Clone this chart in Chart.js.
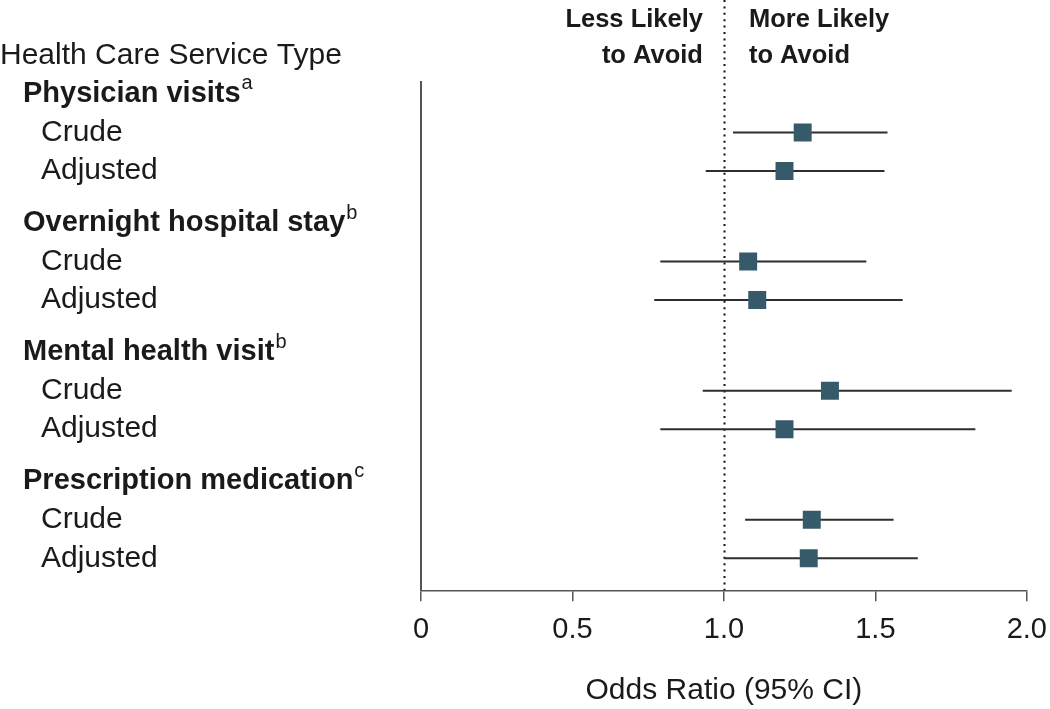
<!DOCTYPE html>
<html>
<head>
<meta charset="utf-8">
<script src="https://cdn.jsdelivr.net/npm/chart.js@4.4.1/dist/chart.umd.min.js"></script>
<style>
  html, body { margin: 0; padding: 0; background: #fff; }
  #wrap { width: 1050px; height: 709px; position: relative; }
</style>
</head>
<body>
<div id="wrap"><canvas id="forest"></canvas></div>
<script>
// service types (group headers) and their footnote letters
const serviceTypes = ['Physician visits', 'Overnight hospital stay', 'Mental health visit', 'Prescription medication'];
const serviceNotes = ['a', 'b', 'b', 'c'];
const estimateTypes = ['Crude', 'Adjusted'];

// crude, adjusted for each service type in order
const oddsRatios = [1.26, 1.20, 1.08, 1.11, 1.35, 1.20, 1.29, 1.28];
const ciLower = [1.03, 0.94, 0.79, 0.77, 0.93, 0.79, 1.07, 1.00];
const ciUpper = [1.54, 1.53, 1.47, 1.59, 1.95, 1.83, 1.56, 1.64];

const xTicks = [0, 0.5, 1.0, 1.5, 2.0];
const xTickLabels = ['0', '0.5', '1.0', '1.5', '2.0'];

const headerTitle = 'Health Care Service Type';
const axisTitle = 'Odds Ratio (95% CI)';
const lessLabel = ['Less Likely', 'to Avoid'];
const moreLabel = ['More Likely', 'to Avoid'];

const FONT = "'Liberation Sans', Arial, sans-serif";
const TEXT = '#1a1a1a';
const AXIS = '#555555';
const MARK = '#375a6a';

// row layout: header at 0, crude at 1, adjusted at 2, groups spaced a bit more
const GROUP_STEP = 3.35;
const rowPos = (g, k) => g * GROUP_STEP + k;

const rows = [];
serviceTypes.forEach((s, g) => {
  estimateTypes.forEach((e, k) => {
    const i = g * estimateTypes.length + k;
    rows.push({ y: rowPos(g, k + 1), or: oddsRatios[i], lo: ciLower[i], hi: ciUpper[i] });
  });
});

const ciSets = rows.map(r => ({
  type: 'scatter',
  showLine: true,
  data: [{ x: r.lo, y: r.y }, { x: r.hi, y: r.y }],
  borderColor: '#2e2e2e',
  borderWidth: 2,
  pointRadius: 0,
  pointHoverRadius: 0,
  order: 2
}));

const pointSet = {
  type: 'scatter',
  data: rows.map(r => ({ x: r.or, y: r.y })),
  pointStyle: 'rect',
  pointRadius: 12.7,
  pointHoverRadius: 12.7,
  backgroundColor: MARK,
  borderWidth: 0,
  order: 1
};

const textPlugin = {
  id: 'forestText',
  beforeDatasetsDraw(chart) {
    const { ctx, scales: { x } } = chart;
    const refX = Math.round(x.getPixelForValue(1)) + 0.5;
    ctx.save();
    ctx.strokeStyle = '#111';
    ctx.lineWidth = 2;
    ctx.setLineDash([2, 4.4]);
    ctx.beginPath();
    ctx.moveTo(refX, 0);
    ctx.lineTo(refX, chart.chartArea.bottom);
    ctx.stroke();
    ctx.restore();
  },
  afterDraw(chart) {
    const { ctx, scales: { x, y } } = chart;
    const refX = x.getPixelForValue(1);
    ctx.save();
    ctx.fillStyle = TEXT;
    ctx.textBaseline = 'middle';

    // top labels either side of the reference line
    ctx.font = `bold 25.5px ${FONT}`;
    ctx.textAlign = 'right';
    ctx.fillText(lessLabel[0], refX - 21, 20);
    ctx.fillText(lessLabel[1], refX - 21, 56);
    ctx.textAlign = 'left';
    ctx.fillText(moreLabel[0], refX + 25, 20);
    ctx.fillText(moreLabel[1], refX + 25, 56);

    // left column
    ctx.textAlign = 'left';
    ctx.font = `30px ${FONT}`;
    ctx.fillText(headerTitle, 0, y.getPixelForValue(-1));
    serviceTypes.forEach((s, g) => {
      const py = y.getPixelForValue(rowPos(g, 0));
      ctx.font = `bold 29px ${FONT}`;
      ctx.fillText(s, 23, py);
      const w = ctx.measureText(s).width;
      ctx.font = `20px ${FONT}`;
      ctx.fillText(serviceNotes[g], 23 + w + 1, py - 10);
      ctx.font = `30px ${FONT}`;
      estimateTypes.forEach((e, k) => {
        ctx.fillText(e, 41, y.getPixelForValue(rowPos(g, k + 1)));
      });
    });
    ctx.restore();
  }
};

new Chart(document.getElementById('forest'), {
  type: 'scatter',
  data: { datasets: [...ciSets, pointSet] },
  options: {
    responsive: true,
    maintainAspectRatio: false,
    animation: false,
    layout: { padding: { left: 421, top: 82, right: 20, bottom: 0 } },
    plugins: { legend: { display: false }, tooltip: { enabled: false } },
    scales: {
      x: {
        type: 'linear',
        min: 0,
        max: 2,
        afterBuildTicks: scale => { scale.ticks = xTicks.map(v => ({ value: v })); },
        ticks: {
          padding: 3,
          color: TEXT,
          font: { family: FONT, size: 29, lineHeight: 1.75 },
          maxRotation: 0,
          callback: v => xTickLabels[xTicks.indexOf(v)]
        },
        grid: { drawOnChartArea: false, drawTicks: true, tickLength: 11, color: AXIS, lineWidth: 1.5 },
        border: { display: true, color: AXIS, width: 1.5 },
        title: {
          display: true,
          text: axisTitle,
          color: TEXT,
          font: { family: FONT, size: 30 },
          padding: { top: 15, bottom: 0 }
        }
      },
      y: {
        type: 'linear',
        reverse: true,
        min: -0.31,
        max: 12.88,
        ticks: { display: false },
        grid: { drawOnChartArea: false, drawTicks: false },
        border: { display: true, color: AXIS, width: 2 }
      }
    }
  },
  plugins: [textPlugin]
});
</script>
</body>
</html>
